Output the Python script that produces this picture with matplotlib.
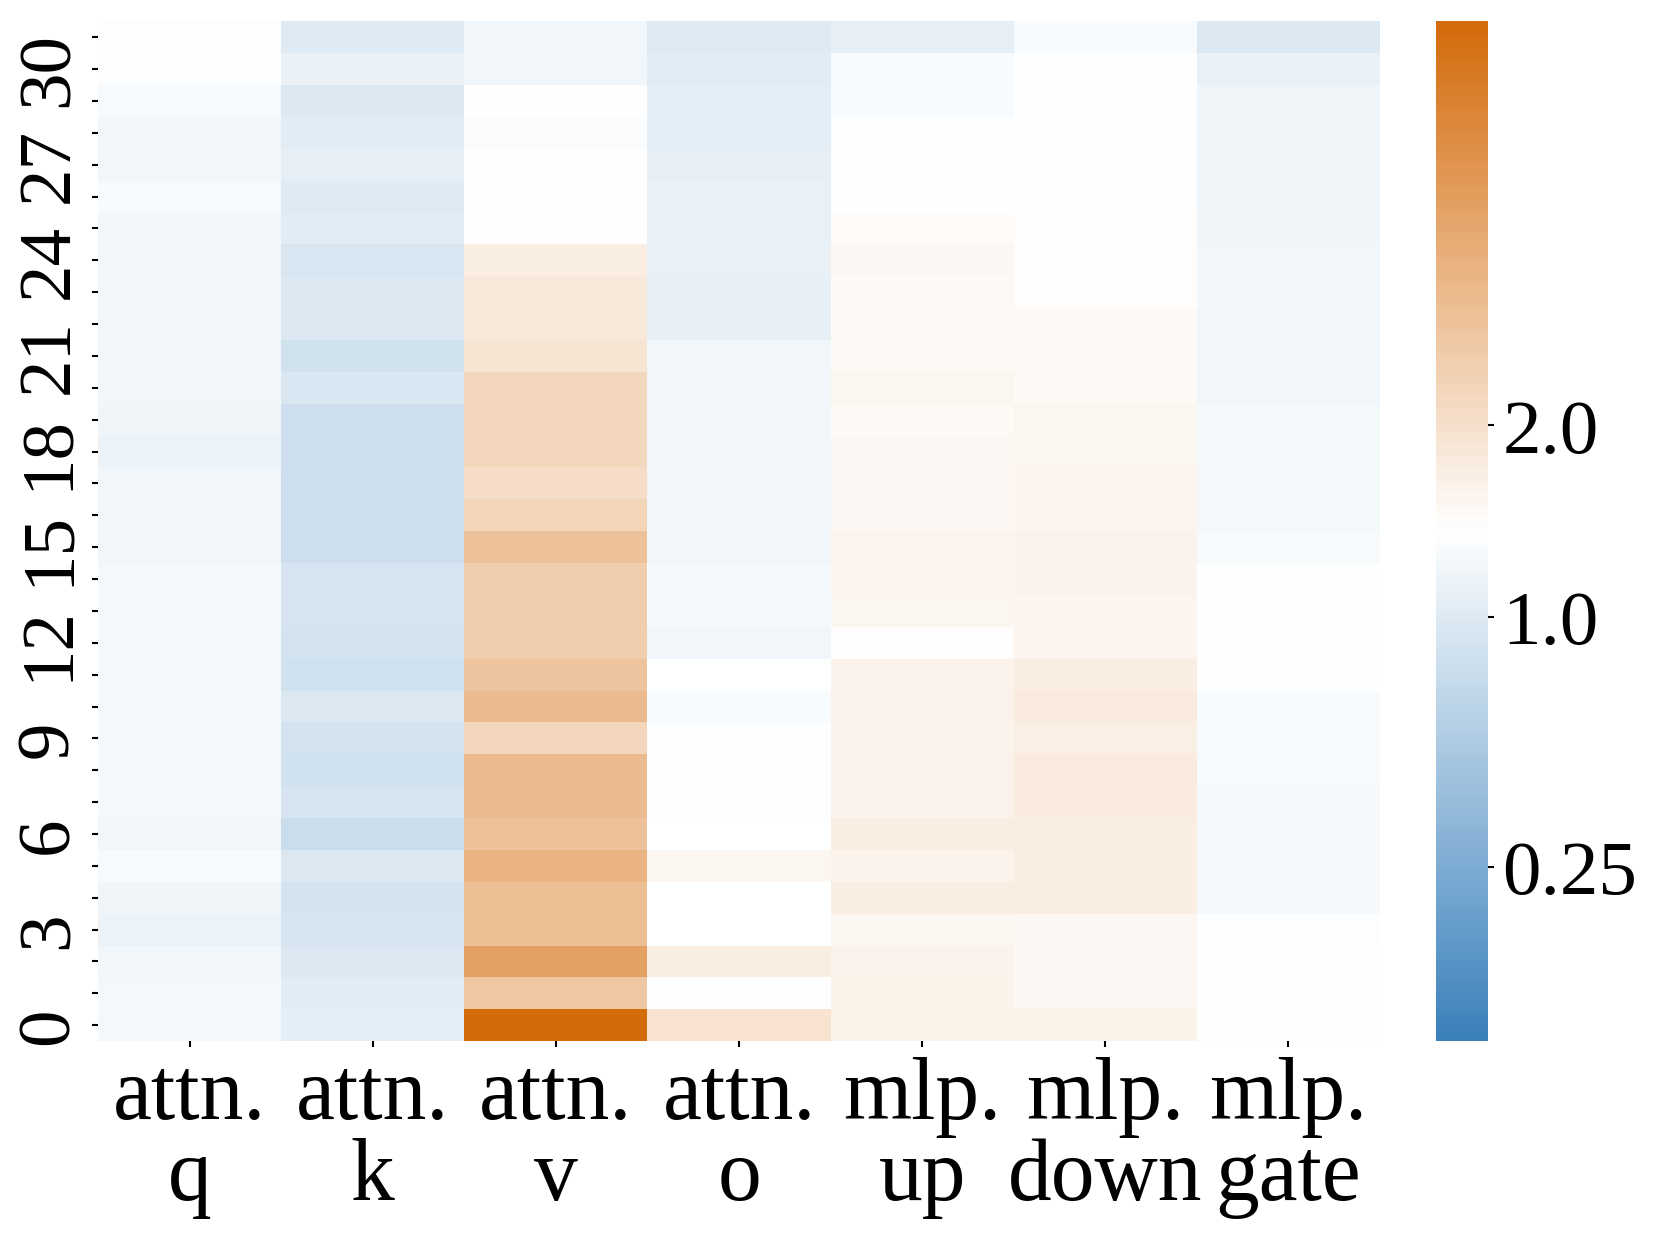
import numpy as np
import matplotlib
matplotlib.use("Agg")
import matplotlib.pyplot as plt
from matplotlib.colors import LinearSegmentedColormap, FuncNorm

plt.rcParams["font.family"] = ["Liberation Serif", "DejaVu Serif"]

# layer index 0..31 (bottom to top)
layers = list(range(32))
modules = ["attn.\nq", "attn.\nk", "attn.\nv", "attn.\no", "mlp.\nup", "mlp.\ndown", "mlp.\ngate"]

attn_q = [1.25, 1.25, 1.21, 1.15, 1.20, 1.28, 1.22, 1.24, 1.24, 1.24, 1.24, 1.24, 1.24, 1.24, 1.24, 1.21,
          1.21, 1.21, 1.16, 1.20, 1.21, 1.21, 1.21, 1.21, 1.21, 1.22, 1.30, 1.22, 1.22, 1.28, 1.34, 1.34]
attn_k = [1.07, 1.04, 0.96, 0.92, 0.89, 0.97, 0.79, 0.90, 0.86, 0.89, 0.96, 0.86, 0.89, 0.90, 0.90, 0.83,
          0.83, 0.83, 0.83, 0.83, 0.95, 0.87, 0.97, 0.97, 0.93, 1.04, 1.00, 1.08, 1.04, 0.975, 1.13, 1.00]
attn_v = [5.53, 2.60, 3.67, 2.79, 2.79, 3.11, 2.71, 2.90, 2.90, 2.21, 2.89, 2.65, 2.45, 2.45, 2.45, 2.71,
          2.26, 2.07, 2.21, 2.21, 2.21, 1.90, 1.82, 1.82, 1.70, 1.40, 1.40, 1.40, 1.33, 1.40, 1.22, 1.22]
attn_o = [1.94, 1.40, 1.72, 1.38, 1.38, 1.545, 1.39, 1.34, 1.34, 1.34, 1.30, 1.38, 1.22, 1.27, 1.27, 1.22,
          1.22, 1.22, 1.22, 1.22, 1.22, 1.22, 1.11, 1.11, 1.12, 1.12, 1.12, 1.09, 1.07, 1.06, 1.04, 0.995]
mlp_up = [1.65, 1.65, 1.61, 1.56, 1.70, 1.61, 1.73, 1.62, 1.62, 1.63, 1.61, 1.61, 1.43, 1.55, 1.60, 1.60,
          1.53, 1.53, 1.53, 1.48, 1.56, 1.50, 1.48, 1.50, 1.53, 1.47, 1.40, 1.40, 1.35, 1.30, 1.30, 1.09]
mlp_down = [1.65, 1.53, 1.53, 1.53, 1.70, 1.70, 1.70, 1.75, 1.75, 1.69, 1.76, 1.70, 1.60, 1.60, 1.63, 1.63,
            1.60, 1.60, 1.55, 1.55, 1.48, 1.48, 1.48, 1.42, 1.42, 1.42, 1.40, 1.40, 1.40, 1.40, 1.40, 1.30]
mlp_gate = [1.40, 1.40, 1.40, 1.34, 1.27, 1.27, 1.27, 1.27, 1.30, 1.30, 1.30, 1.36, 1.36, 1.36, 1.36, 1.28,
            1.25, 1.25, 1.25, 1.25, 1.21, 1.21, 1.21, 1.21, 1.21, 1.19, 1.19, 1.19, 1.19, 1.19, 1.12, 0.98]

cbar_ticks = [0.25, 1.0, 2.0]
cbar_labels = ["0.25", "1.0", "2.0"]

data = np.column_stack([attn_q, attn_k, attn_v, attn_o, mlp_up, mlp_down, mlp_gate])

cmap = LinearSegmentedColormap.from_list("bwo", ["#3a80bb", "#ffffff", "#d46b0b"])
gamma = 0.42
norm = FuncNorm((lambda x: np.power(np.clip(x, 1e-9, None), gamma),
                 lambda y: np.power(np.clip(y, 1e-9, None), 1 / gamma)),
                vmin=0.037, vmax=5.53)

fig = plt.figure(figsize=(5.537, 4.153), dpi=300)
ax = fig.add_axes([0.059, 0.1636, 0.7718, 0.8186])
cax = fig.add_axes([0.8645, 0.1636, 0.0313, 0.8186])

mesh = ax.pcolormesh(np.arange(len(modules) + 1), np.arange(len(layers) + 1), data,
                     cmap=cmap, norm=norm)
ax.set_xlim(0, len(modules))
ax.set_ylim(0, len(layers))
for s in ax.spines.values():
    s.set_visible(False)

ax.set_xticks(np.arange(len(modules)) + 0.5)
ax.set_xticklabels(modules, fontsize=21, linespacing=1.0)
ax.set_yticks(np.arange(len(layers)) + 0.5)
ax.set_yticklabels([str(l) if l % 3 == 0 else "" for l in layers], fontsize=18,
                   rotation=90, va="center")
ax.tick_params(axis="both", length=1.5, width=0.5, pad=2)

cb = fig.colorbar(mesh, cax=cax)
cb.outline.set_visible(False)
cb.set_ticks(cbar_ticks)
cb.set_ticklabels(cbar_labels)
cb.ax.tick_params(labelsize=18.5, length=1.5, width=0.5, pad=2)
cb.ax.minorticks_off()

fig.savefig("out.png", dpi=300)
